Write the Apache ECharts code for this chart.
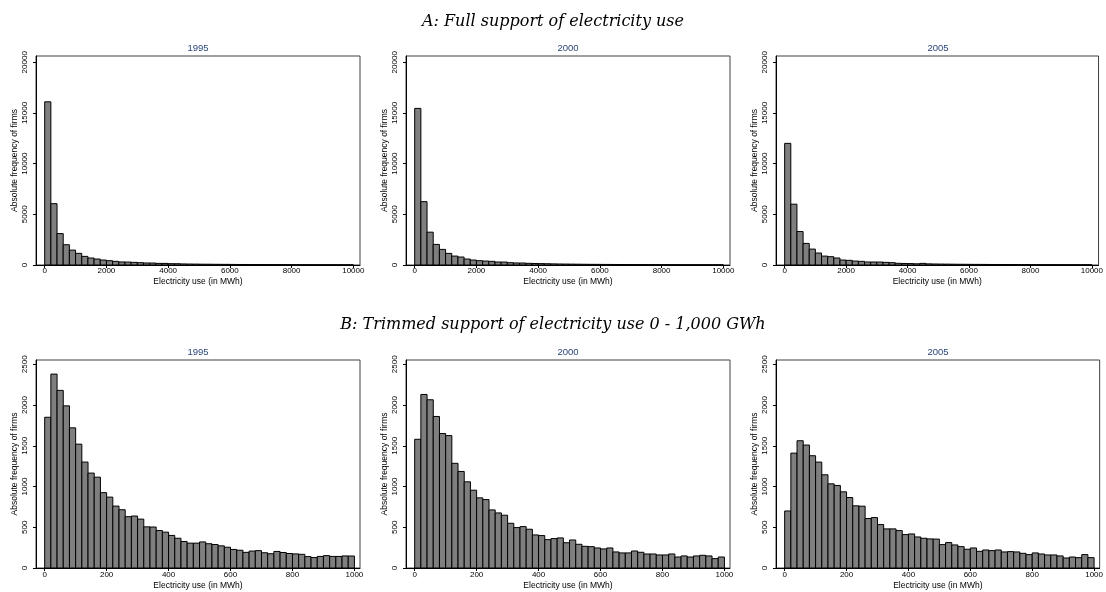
<!DOCTYPE html>
<html>
<head>
<meta charset="utf-8">
<script src="https://cdn.jsdelivr.net/npm/echarts@6/dist/echarts.min.js"></script>
<style>
  html, body { margin: 0; padding: 0; background: #fff; }
  #chart { width: 1106px; height: 592px; }
</style>
</head>
<body>
<div id="chart"></div>
<script>
// Histograms of firm-level electricity use, three survey years
const years = ['1995', '2000', '2005'];

// Panel A: full support, 50 bins of 200 MWh starting at 0
const fullBinStart = 0;
const fullBinWidth = 200;
const fullXTicks = [0, 2000, 4000, 6000, 8000, 10000];
const fullYTicks = [0, 5000, 10000, 15000, 20000];
const full1995 = [16100, 6050, 3100, 2000, 1470, 1150, 850, 690, 590, 490,
                  425, 360, 300, 290, 260, 230, 200, 195, 160, 155,
                  130, 125, 105, 95, 88, 80, 76, 70, 64, 62,
                  57, 52, 50, 47, 44, 42, 40, 37, 36, 33,
                  32, 30, 29, 27, 26, 25, 24, 23, 22, 21];
const full2000 = [15450, 6250, 3240, 2030, 1540, 1145, 880, 785, 590, 490,
                  425, 390, 360, 295, 290, 230, 200, 195, 165, 150,
                  135, 125, 110, 100, 92, 85, 78, 72, 66, 62,
                  58, 54, 51, 48, 45, 43, 41, 38, 36, 34,
                  33, 31, 30, 28, 27, 26, 25, 24, 23, 22];
const full2005 = [12000, 6000, 3300, 2130, 1570, 1180, 880, 820, 690, 490,
                  460, 390, 360, 295, 295, 290, 260, 230, 165, 150,
                  140, 120, 160, 110, 100, 92, 85, 78, 72, 68,
                  63, 60, 56, 52, 50, 47, 45, 42, 40, 38,
                  36, 35, 33, 32, 30, 29, 28, 27, 26, 25];

// Panel B: trimmed support, 50 bins of 20 MWh starting at 0
const trimBinStart = 0;
const trimBinWidth = 20;
const trimXTicks = [0, 200, 400, 600, 800, 1000];
const trimYTicks = [0, 500, 1000, 1500, 2000, 2500];
const trim1995 = [1850, 2380, 2180, 1990, 1720, 1520, 1300, 1165, 1115, 925,
                  870, 760, 715, 630, 638, 600, 505, 503, 460, 440,
                  400, 365, 325, 305, 305, 320, 298, 288, 272, 255,
                  228, 218, 192, 208, 213, 187, 175, 203, 190, 178,
                  173, 168, 140, 128, 142, 152, 142, 142, 148, 147];
const trim2000 = [1580, 2130, 2065, 1860, 1650, 1625, 1285, 1185, 1058, 955,
                  861, 840, 713, 676, 648, 549, 496, 508, 476, 406,
                  398, 348, 361, 369, 310, 344, 291, 266, 262, 246,
                  234, 246, 197, 185, 185, 209, 193, 172, 172, 160,
                  160, 172, 135, 148, 135, 148, 156, 148, 115, 135];
const trim2005 = [700, 1410, 1562, 1509, 1378, 1300, 1144, 1033, 1013, 935,
                  865, 763, 759, 607, 619, 533, 480, 480, 459, 410,
                  418, 381, 365, 357, 355, 287, 312, 283, 262, 230,
                  246, 205, 221, 213, 221, 197, 201, 197, 180, 164,
                  185, 172, 160, 160, 148, 123, 135, 127, 164, 127];

const titleA = 'A: Full support of electricity use';
const titleB = 'B: Trimmed support of electricity use 0 - 1,000 GWh';
const xName = 'Electricity use (in MWh)';
const yName = 'Absolute frequency of firms';

// Panel geometry
const colLeft = [36, 406, 776];
const panelW = 324;
const rows = [
  { top: 56, height: 209, xMin: -282, xMax: 10217, yMax: 20620, nameGap: 12, labelMargin: 2,
    xTicks: fullXTicks, yTicks: fullYTicks, start: fullBinStart, width: fullBinWidth,
    series: [full1995, full2000, full2005] },
  { top: 360, height: 208, xMin: -28, xMax: 1018, yMax: 2553, nameGap: 13, labelMargin: 3,
    xTicks: trimXTicks, yTicks: trimYTicks, start: trimBinStart, width: trimBinWidth,
    series: [trim1995, trim2000, trim2005] }
];

const labelFont = 'Liberation Sans, Arial, sans-serif';
const headFont = { fontFamily: 'DejaVu Serif', fontStyle: 'italic', fontWeight: 'normal', fontSize: 16, color: '#000' };
const grids = [], xAxes = [], yAxes = [], series = [], titles = [];

titles.push({ text: titleA, left: 553, top: 14, padding: 0, textAlign: 'center', textStyle: headFont });
titles.push({ text: titleB, left: 553, top: 317, padding: 0, textAlign: 'center', textStyle: headFont });

function barRenderer(binWidth) {
  return function (params, api) {
    const x0 = api.value(0);
    const h = api.value(1);
    const topLeft = api.coord([x0, h]);
    const bottomRight = api.coord([x0 + binWidth, 0]);
    return {
      type: 'rect',
      shape: { x: topLeft[0], y: topLeft[1],
               width: bottomRight[0] - topLeft[0], height: bottomRight[1] - topLeft[1] },
      style: { fill: '#7f7f7f', stroke: '#000', lineWidth: 1 }
    };
  };
}

rows.forEach((row, r) => {
  years.forEach((year, c) => {
    const idx = r * 3 + c;
    grids.push({ left: colLeft[c], top: row.top, width: panelW, height: row.height,
      show: true, borderColor: '#404040', borderWidth: 1, backgroundColor: '#fff' });
    titles.push({ text: year, left: colLeft[c] + panelW / 2, top: row.top - 13, padding: 0, textAlign: 'center',
      textStyle: { fontFamily: labelFont, fontWeight: 'normal', fontSize: 9.5, color: '#2a4677' } });
    xAxes.push({
      type: 'value', gridIndex: idx, min: row.xMin, max: row.xMax,
      name: xName, nameLocation: 'middle', nameGap: row.nameGap,
      nameTextStyle: { fontFamily: labelFont, fontSize: 8.5, color: '#000' },
      axisLine: { show: true, onZero: false, lineStyle: { color: '#000', width: 1 } },
      axisTick: { show: true, length: 3, customValues: row.xTicks, lineStyle: { color: '#000' } },
      axisLabel: { show: true, customValues: row.xTicks, margin: row.labelMargin, formatter: v => String(v),
        fontFamily: labelFont, fontSize: 8, color: '#000' },
      splitLine: { show: false }
    });
    yAxes.push({
      type: 'value', gridIndex: idx, min: 0, max: row.yMax,
      name: yName, nameLocation: 'middle', nameGap: 17,
      nameTextStyle: { fontFamily: labelFont, fontSize: 8.5, color: '#000' },
      axisLine: { show: true, onZero: false, lineStyle: { color: '#000', width: 1 } },
      axisTick: { show: true, length: 3, customValues: row.yTicks, lineStyle: { color: '#000' } },
      axisLabel: { show: true, customValues: row.yTicks, rotate: 90, margin: 7,
        formatter: v => String(v), fontFamily: labelFont, fontSize: 8, color: '#000' },
      splitLine: { show: false }
    });
    series.push({
      type: 'custom', xAxisIndex: idx, yAxisIndex: idx,
      renderItem: barRenderer(row.width),
      encode: { x: 0, y: 1 },
      data: row.series[c].map((v, i) => [row.start + i * row.width, v]),
      silent: true, animation: false
    });
  });
});

const chart = echarts.init(document.getElementById('chart'), null, { renderer: 'canvas' });
chart.setOption({
  backgroundColor: '#fff',
  animation: false,
  title: titles,
  grid: grids,
  xAxis: xAxes,
  yAxis: yAxes,
  series: series
});
</script>
</body>
</html>
